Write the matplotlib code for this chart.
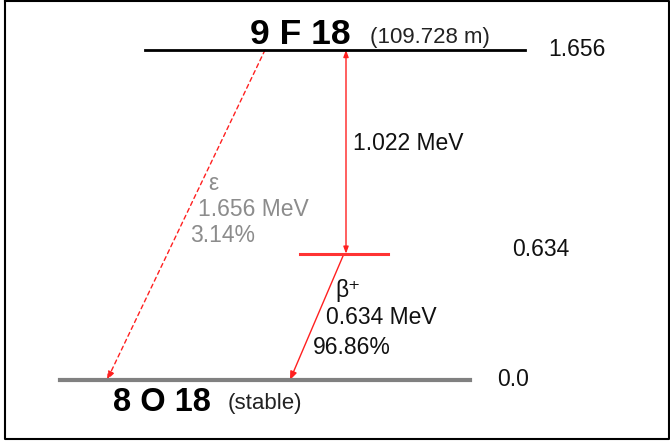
import matplotlib
matplotlib.use("Agg")
import matplotlib.pyplot as plt
from matplotlib.patches import FancyArrowPatch

plt.rcParams['font.family'] = ['Liberation Sans', 'DejaVu Sans']

# Data
levels = [1.656, 0.634, 0.0]
level_labels = ["1.656", "0.634", "0.0"]
parent = ("9 F 18", "(109.728 m)")
daughter = ("8 O 18", "(stable)")
ec_labels = ["\u03b5", "1.656 MeV", "3.14%"]
beta_labels = ["\u03b2\u207a", "0.634 MeV", "96.86%"]
gap_label = "1.022 MeV"

W, H = 670, 441
fig = plt.figure(figsize=(W / 100, H / 100), dpi=100)
ax = fig.add_axes([0, 0, 1, 1])
# y: energy in MeV; 0 at pixel 380, 1.656 at pixel 50
scale = (380 - 50) / 1.656
ax.set_xlim(0, W)
ax.set_ylim(-(H - 380) / scale, 380 / scale)
ax.axis('off')

def ypx(p):
    return (380 - p) / scale

# border
ytop = ypx(1)
ybot = ypx(439)
ax.plot([5, 669, 669, 5, 5], [ytop, ytop, ybot, ybot, ytop], color='black', lw=1.5, clip_on=False)

# levels
ax.plot([145, 525], [levels[0]] * 2, color='black', lw=2)
ax.plot([300, 388], [levels[1]] * 2, color='#ff3333', lw=2.2)
ax.plot([60, 470], [levels[2]] * 2, color='#808080', lw=3)

FS = 16.5
# level values
ax.text(548, levels[0], level_labels[0], fontsize=FS, va='center', ha='left', color='#111111')
ax.text(512, levels[1] + 0.02, level_labels[1], fontsize=FS, va='center', ha='left', color='#111111')
ax.text(497, levels[2], level_labels[2], fontsize=FS, va='center', ha='left', color='#111111')

# nuclide labels
ax.text(250, ypx(44), parent[0], fontsize=25.5, fontweight='bold', ha='left', va='baseline')
ax.text(370, ypx(43), parent[1], fontsize=16, ha='left', va='baseline', color='#222222')
ax.text(113, ypx(411), daughter[0], fontsize=23.5, fontweight='bold', ha='left', va='baseline')
ax.text(228, ypx(409), daughter[1], fontsize=16, ha='left', va='baseline', color='#222222')

red = '#ff2020'
# vertical gap arrow (double-headed)
ax.add_patch(FancyArrowPatch((346, levels[1]), (346, levels[0]), arrowstyle='<|-|>,head_length=4,head_width=1.5',
                             color=red, lw=1, shrinkA=0, shrinkB=0))
ax.text(353, ypx(143), gap_label, fontsize=FS, ha='left', va='center', color='#111111')

# EC dashed arrow
ax.add_patch(FancyArrowPatch((265, levels[0]), (107, levels[2]), arrowstyle='-|>,head_length=5,head_width=2',
                             color=red, lw=1, linestyle=(0, (3, 2.5)), shrinkA=0, shrinkB=0))
gray = '#8c8c8c'
for lab, (x, yp) in zip(ec_labels, [(208, 183), (198, 209), (190, 235)]):
    ax.text(x, ypx(yp), lab, fontsize=FS, ha='left', va='center', color=gray)

# beta+ arrow
ax.add_patch(FancyArrowPatch((344, levels[1]), (290, levels[2]), arrowstyle='-|>,head_length=5,head_width=2',
                             color=red, lw=1, shrinkA=0, shrinkB=0))
for lab, (x, yp) in zip(beta_labels, [(335, 290), (326, 318), (313, 347)]):
    ax.text(x, ypx(yp), lab, fontsize=FS, ha='left', va='center', color='#111111')

fig.savefig('out.png', dpi=100)
